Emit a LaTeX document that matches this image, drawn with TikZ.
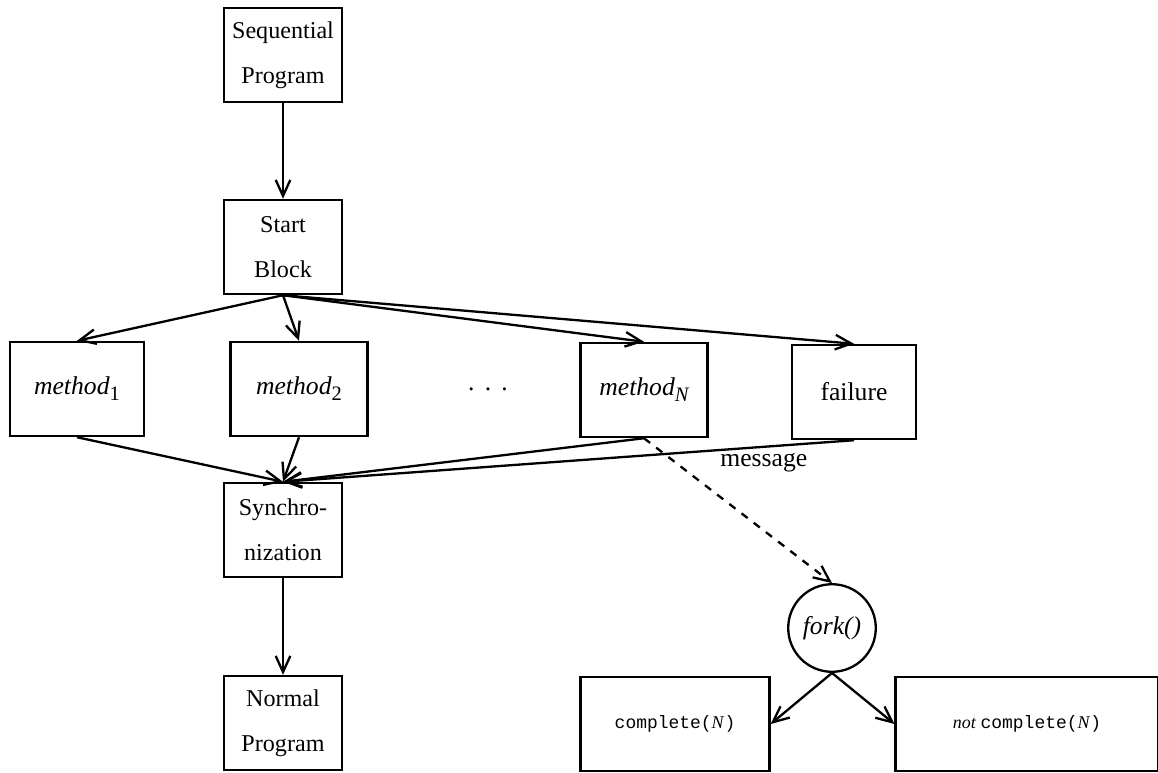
\documentclass[tikz,border=0pt]{standalone}
\usepackage{fontspec}
\setmainfont{Liberation Serif}
\setmonofont{Liberation Mono}
\usetikzlibrary{shapes, arrows.meta}

\begin{document}
\begin{tikzpicture}[x=0.0137cm, y=-0.0137cm, line width=0.9pt,
	>={Straight Barb[length=2.2mm, width=2mm]},
	blockbox/.style={draw, rectangle, align=center, inner xsep=2pt, minimum width=1.62cm, minimum height=1.29cm, font=\fontsize{9.4}{17.5}\selectfont},
	methodbox/.style={draw, rectangle, minimum height=1.29cm, font=\fontsize{10}{12}\selectfont},
	resultbox/.style={draw, rectangle, minimum height=1.28cm, font=\fontsize{7}{9}\selectfont},
	forknode/.style={draw, circle, minimum size=1.2cm, inner sep=0pt, font=\fontsize{10}{12}\selectfont}
	]
	\useasboundingbox (0,0) rectangle (1158,772);
	\node[blockbox] (seq) at (283,55) {Sequential\\Program};
	\node[blockbox] (start) at (283,247) {Start\\Block};
	\node[methodbox, minimum width=1.84cm] (m1) at (77,389) {\textit{method}\raisebox{-0.5ex}{\footnotesize 1}};
	\node[methodbox, minimum width=1.88cm] (m2) at (299,389) {\textit{method}\raisebox{-0.5ex}{\footnotesize 2}};
	\node (dots) at (488,389) {.\hspace{4pt}.\hspace{4pt}.};
	\node[methodbox, minimum width=1.74cm] (mN) at (644,390) {\textit{method}\raisebox{-0.5ex}{\footnotesize\itshape N}};
	\node[methodbox, minimum width=1.70cm] (fail) at (854,392) {failure};
	\node[blockbox] (sync) at (283,530) {Synchro-\\nization};
	\node[blockbox] (normal) at (283,723) {Normal\\Program};
	\node[forknode] (fork) at (832,628) {\textit{fork()}};
	\node[resultbox, minimum width=2.59cm] (comp) at (675,724) {\texttt{complete(}\textit{N}\texttt{)}};
	\node[resultbox, minimum width=3.6cm] (notcomp) at (1027,724) {\textit{not} \texttt{complete(}\textit{N}\texttt{)}};

	\draw[->] (seq) -- (start);
	\draw[->] (start.south) -- (m1.north);
	\draw[->] (start.south) -- (m2.north);
	\draw[->] (start.south) -- (mN.north);
	\draw[->] (start.south) -- (fail.north);
	\draw[->] (m1.south) -- (sync.north);
	\draw[->] (m2.south) -- (sync.north);
	\draw[->] (mN.south) -- (sync.north);
	\draw[->] (fail.south) -- (sync.north);
	\draw[->] (sync) -- (normal);
	\draw[->, dashed] (mN.south) -- node[pos=0.3, anchor=south west, xshift=4pt, font=\fontsize{10}{12}\selectfont] {message} (fork.north);
	\draw[->] (fork.south) -- (comp.east);
	\draw[->] (fork.south) -- (notcomp.west);
\end{tikzpicture}
\end{document}
